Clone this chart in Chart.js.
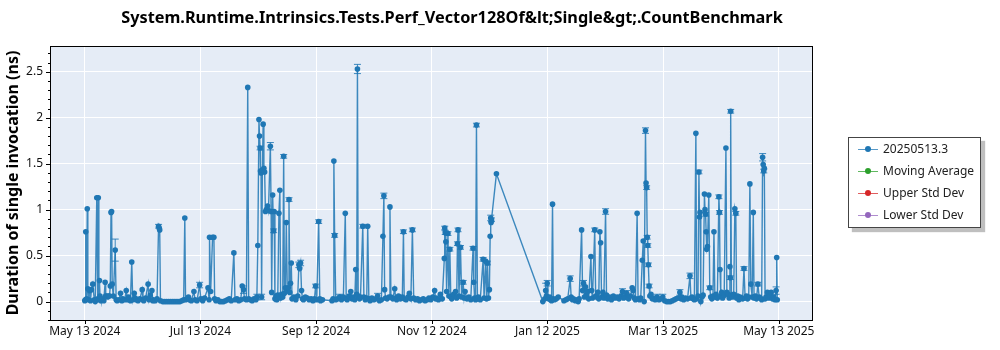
<!DOCTYPE html>
<html lang="en">
<head>
<meta charset="UTF-8">
<title>Perf_Vector128Of CountBenchmark</title>
<script src="https://cdn.jsdelivr.net/npm/chart.js"></script>
<style>
    body {
        margin: 0;
        background: #fff;
        font-family: "Noto Sans", sans-serif;
    }
    #wrap {
        position: relative;
        width: 1000px;
        height: 350px;
    }
    #title {
        position: absolute;
        left: 0;
        width: 904px;
        top: 6px;
        text-align: center;
        font-weight: bold;
        font-size: 16.3px;
        white-space: nowrap;
        color: #000;
    }
    #legend {
        position: absolute;
        left: 848px;
        top: 137px;
        width: 131px;
        height: 89px;
        border: 1px solid #444;
        background: #fff;
        box-shadow: 4px 4px 1px rgba(0, 0, 0, 0.25);
    }
    .row {
        height: 22px;
        line-height: 22px;
        padding-left: 9px;
        font-size: 12px;
        color: #222;
        white-space: nowrap;
    }
    .icon {
        position: relative;
        display: inline-block;
        width: 20px;
        height: 22px;
        vertical-align: top;
        margin-right: 5px;
    }
    .icon .ln {
        position: absolute;
        left: 0;
        right: 0;
        top: 10.5px;
        height: 1.5px;
        opacity: 0.75;
    }
    .icon .dot {
        position: absolute;
        left: 7px;
        top: 8px;
        width: 6px;
        height: 6px;
        border-radius: 50%;
    }
</style>
</head>
<body>
<div id="wrap">
    <canvas id="chart" width="1000" height="350"></canvas>
    <div id="title"></div>
    <div id="legend"></div>
</div>
<script>
    const chartTitle = 'System.Runtime.Intrinsics.Tests.Perf_Vector128Of&lt;Single&gt;.CountBenchmark';
    const yTitle = 'Duration of single invocation (ns)';

    // x axis: days since May 13 2024
    const tickDays = [0, 60.83, 121.67, 182.5, 243.33, 304.17, 365];
    const tickLabels = ['May 13 2024', 'Jul 13 2024', 'Sep 12 2024', 'Nov 12 2024', 'Jan 12 2025', 'Mar 13 2025', 'May 13 2025'];

    const seriesNames = ['20250513.3', 'Moving Average', 'Upper Std Dev', 'Lower Std Dev'];
    const seriesColors = ['#1f77b4', '#2ca02c', '#d62728', '#9467bd'];

    // run dates (days) and durations (ns)
    const runDays = [
        0, 0.3, 0.5, 1, 1.3, 1.6, 2, 2.5, 3, 3.5,
        4.2, 5, 5.5, 6.3, 6.8, 7.1, 7.4, 7.7, 8, 8.5,
        9, 10, 10.7, 11, 11.5, 12, 12.5, 13, 13.4, 13.8,
        14.1, 14.4, 15, 16, 16.5, 17, 18, 18.8, 19.5, 20,
        21, 21.8, 22.5, 23, 24, 24.7, 25.2, 26, 26.5, 27,
        28, 29, 30.2, 30.6, 31, 32, 33.3, 33.8, 34.4, 35.3,
        35.8, 36, 37, 38, 38.8, 39.1, 39.4, 39.8, 41, 42,
        43, 44, 45, 46, 47, 48, 49, 50, 51, 52,
        52.6, 53, 54, 54.5, 55, 56, 57.4, 58, 59, 60.4,
        61, 62, 63, 64.8, 65.4, 65.6, 66.2, 67.2, 67.9, 68.3,
        69, 70, 71, 72, 73, 74, 75, 76, 77, 78.4,
        79, 80, 81, 82, 82.8, 83.5, 84, 85, 85.7, 86.2,
        87, 88, 89, 90, 90.5, 91, 91.6, 91.9, 92.2, 92.4,
        92.7, 93, 93.4, 93.8, 94.2, 94.6, 95, 95.5, 96.1, 96.6,
        97.6, 98, 98.3, 98.8, 99.3, 99.6, 100, 100.5, 101, 101.5,
        102.1, 102.6, 103, 103.5, 104.1, 104.6, 105, 105.5, 106, 106.5,
        107, 107.4, 107.8, 108.2, 108.6, 109, 110, 111, 112, 112.6,
        113, 113.5, 114, 114.5, 115, 116, 117, 118, 119, 120,
        120.8, 121.4, 122, 123, 123.6, 124, 125, 130, 130.6, 131,
        131.4, 132, 133, 134, 134.5, 135, 136, 137, 137.5, 138,
        139, 139.9, 140.5, 141, 142, 142.5, 143, 143.4, 143.8, 144.5,
        145, 146.2, 146.8, 147.5, 148.3, 148.8, 149.4, 150, 151, 152,
        153, 154, 155, 156, 156.8, 157.3, 157.7, 158.2, 159, 160,
        160.5, 161, 162, 163, 163.5, 164, 165, 166, 167, 167.6,
        168, 169, 170, 170.7, 171.5, 172.3, 173, 174, 175, 176,
        177, 178, 179, 180, 181, 182, 183, 184, 184.5, 185,
        186, 187, 188, 189.1, 189.3, 189.6, 189.9, 190.3, 191, 191.5,
        192, 192.5, 193, 194, 195, 195.6, 196, 196.3, 196.8, 197.6,
        198.2, 199, 199.5, 200, 201, 202, 203, 204.2, 204.6, 205,
        205.5, 206, 206.5, 207, 208, 209.5, 210, 210.8, 211.3, 211.8,
        212.3, 212.8, 213.2, 213.5, 213.7, 213.9, 216.5, 240.9, 242, 242.4,
        242.8, 243.2, 243.6, 244, 244.5, 245, 245.5, 246, 246.4, 247,
        248, 249, 252, 253, 254, 255.3, 255.8, 256.5, 257, 258,
        259, 259.5, 260, 261.3, 261.8, 262.3, 262.8, 263.3, 263.8, 264.5,
        265, 266.2, 266.6, 267, 268.2, 268.7, 269.2, 269.8, 270.3, 270.9,
        271.3, 271.8, 272.5, 273, 273.9, 274.4, 275, 276, 277, 278,
        279, 280, 281, 282, 282.8, 283.4, 284, 285, 286, 287,
        287.9, 288.4, 289, 289.6, 290.5, 291, 291.8, 292.4, 293.2, 293.7,
        294.2, 294.9, 295.2, 295.5, 295.8, 296.1, 296.4, 296.8, 297.2, 297.8,
        298.5, 299, 300, 301, 302, 303, 304, 305, 306, 307,
        308, 309, 310, 311, 312, 313, 313.6, 314, 315, 316,
        317, 318.3, 318.8, 319.4, 320, 320.6, 321.4, 321.8, 322.5, 323,
        323.3, 323.6, 324, 324.6, 325.2, 325.9, 326.2, 326.5, 326.8, 327.1,
        327.5, 328.2, 328.7, 329.2, 329.8, 330.4, 330.9, 331.4, 332, 332.7,
        333.5, 333.8, 334.1, 334.5, 335, 335.5, 336.3, 337.2, 337.7, 338.2,
        338.9, 339.3, 339.5, 339.7, 340.1, 340.6, 341.3, 341.9, 342.4, 342.8,
        343.4, 344, 344.7, 345.3, 346, 346.7, 347.3, 348, 348.6, 349.2,
        349.8, 350.3, 351, 351.6, 352, 352.7, 353.3, 354, 354.7, 355.3,
        356, 356.5, 356.8, 357.1, 357.4, 357.8, 358.3, 359, 359.7, 360.3,
        361, 361.7, 362.4, 363, 363.6, 363.9, 364.2
    ];
    const durations = [
        0.01, 0.02, 0.76, 0.03, 1.01, 0.14, 0.02, 0.12, 0.01, 0.13,
        0.19, 0.02, 0.00, 1.13, 0.03, 1.13, 0.02, 0.23, 0.06, 0.01,
        0.03, 0.01, 0.21, 0.06, 0.06, 0.05, 0.06, 0.06, 0.17, 0.97,
        0.98, 0.19, 0.06, 0.56, 0.02, 0.01, 0.02, 0.09, 0.01, 0.03,
        0.02, 0.12, 0.02, 0.05, 0.01, 0.43, 0.02, 0.09, 0.04, 0.02,
        0.01, 0.03, 0.13, 0.02, 0.01, 0.04, 0.19, 0.02, 0.07, 0.12,
        0.01, 0.02, 0.01, 0.03, 0.82, 0.80, 0.78, 0.01, 0.00, 0.00,
        0.00, 0.00, 0.00, 0.00, 0.00, 0.00, 0.00, 0.00, 0.01, 0.02,
        0.91, 0.02, 0.03, 0.05, 0.02, 0.01, 0.11, 0.02, 0.01, 0.18,
        0.03, 0.01, 0.04, 0.15, 0.02, 0.70, 0.11, 0.70, 0.70, 0.03,
        0.01, 0.02, 0.00, 0.00, 0.00, 0.01, 0.02, 0.03, 0.01, 0.53,
        0.02, 0.03, 0.01, 0.02, 0.17, 0.13, 0.03, 0.02, 2.33, 0.03,
        0.02, 0.01, 0.03, 0.02, 0.05, 0.61, 1.98, 1.80, 1.67, 1.42,
        1.40, 0.05, 1.43, 1.93, 1.45, 1.41, 0.98, 1.00, 1.04, 0.99,
        1.69, 0.98, 0.10, 1.16, 0.77, 0.98, 0.03, 0.06, 0.02, 0.07,
        0.96, 1.21, 0.04, 0.08, 0.05, 1.58, 0.09, 0.15, 0.86, 0.12,
        0.15, 1.11, 0.10, 0.20, 0.42, 0.03, 0.05, 0.02, 0.06, 0.40,
        0.36, 0.42, 0.12, 0.03, 0.02, 0.05, 0.04, 0.02, 0.03, 0.01,
        0.03, 0.17, 0.02, 0.87, 0.03, 0.01, 0.02, 0.01, 0.03, 1.53,
        0.72, 0.02, 0.03, 0.05, 0.05, 0.02, 0.05, 0.96, 0.03, 0.02,
        0.06, 0.11, 0.03, 0.05, 0.02, 0.35, 0.08, 2.53, 0.06, 0.03,
        0.05, 0.82, 0.05, 0.02, 0.04, 0.82, 0.03, 0.01, 0.04, 0.02,
        0.03, 0.06, 0.01, 0.02, 0.71, 1.15, 0.13, 0.04, 0.03, 0.05,
        1.03, 0.05, 0.03, 0.14, 0.04, 0.02, 0.06, 0.03, 0.05, 0.76,
        0.03, 0.02, 0.05, 0.09, 0.03, 0.78, 0.04, 0.02, 0.03, 0.01,
        0.02, 0.03, 0.01, 0.02, 0.04, 0.02, 0.05, 0.12, 0.03, 0.04,
        0.02, 0.08, 0.03, 0.47, 0.80, 0.75, 0.65, 0.11, 0.74, 0.06,
        0.57, 0.05, 0.03, 0.08, 0.11, 0.04, 0.63, 0.78, 0.06, 0.59,
        0.05, 0.21, 0.04, 0.11, 0.03, 0.05, 0.02, 0.58, 0.21, 0.04,
        0.02, 1.92, 0.03, 0.05, 0.02, 0.46, 0.04, 0.44, 0.03, 0.42,
        0.04, 0.13, 0.71, 0.91, 0.86, 0.89, 1.39, 0.00, 0.03, 0.12,
        0.06, 0.20, 0.04, 0.03, 0.05, 0.02, 0.01, 1.06, 0.03, 0.02,
        0.03, 0.05, 0.01, 0.02, 0.03, 0.25, 0.05, 0.02, 0.03, 0.01,
        0.02, 0.00, 0.03, 0.78, 0.12, 0.20, 0.05, 0.16, 0.07, 0.11,
        0.03, 0.49, 0.12, 0.04, 0.78, 0.06, 0.05, 0.10, 0.03, 0.76,
        0.64, 0.05, 0.10, 0.04, 0.98, 0.07, 0.03, 0.05, 0.02, 0.06,
        0.04, 0.05, 0.03, 0.06, 0.11, 0.04, 0.05, 0.09, 0.03, 0.06,
        0.15, 0.12, 0.04, 0.02, 0.96, 0.03, 0.02, 0.04, 0.45, 0.66,
        0.00, 1.86, 1.29, 1.24, 0.70, 0.61, 0.40, 0.17, 0.06, 0.08,
        0.03, 0.04, 0.02, 0.05, 0.02, 0.03, 0.05, 0.01, 0.00, 0.00,
        0.00, 0.01, 0.02, 0.03, 0.04, 0.10, 0.03, 0.05, 0.02, 0.04,
        0.03, 0.28, 0.04, 0.05, 0.03, 0.02, 1.83, 0.03, 0.06, 1.41,
        0.92, 0.97, 0.00, 0.05, 0.07, 1.17, 1.00, 0.95, 0.76, 0.57,
        0.60, 1.16, 0.15, 0.05, 0.03, 0.06, 0.76, 0.05, 0.08, 0.04,
        1.14, 0.97, 0.35, 0.06, 0.10, 0.04, 0.07, 1.67, 0.10, 0.08,
        0.04, 0.38, 0.26, 2.07, 0.07, 0.05, 0.08, 1.01, 0.96, 0.04,
        0.06, 0.02, 0.05, 0.04, 0.03, 0.36, 0.04, 0.06, 0.03, 0.05,
        1.28, 0.19, 0.05, 0.97, 0.04, 0.06, 0.03, 0.19, 0.05, 0.04,
        0.02, 1.57, 1.49, 1.42, 1.45, 0.03, 0.05, 0.10, 0.04, 0.06,
        0.10, 0.03, 0.05, 0.02, 0.12, 0.48, 0.02
    ];

    // error bars: run day and half-height (ns)
    const errorDays = [16, 38.8, 60.4, 83.5, 90.5, 92.2, 93, 97.6, 99.3, 104.6,
        107.4, 112.6, 113.5, 121.4, 123, 131.4, 134, 143.4, 146.2, 154,
        157.3, 167.6, 172.3, 189.3, 189.6, 191, 192, 196, 196.3, 197.6,
        199, 204.2, 206, 209.5, 211.8, 213.5, 213.9, 242.4, 243.2, 255.3,
        262.3, 268.2, 273.9, 282.8, 285, 294.9, 295.5, 295.8, 296.1, 296.4,
        296.8, 301, 304, 313, 318.3, 323, 326.5, 328.7, 333.5, 333.8,
        339.5, 339.7, 342.4, 346.7, 354, 356.5, 357.1, 363.6];
    const errorSizes = [0.12, 0.02, 0.03, 0.04, 0.03, 0.02, 0.03, 0.04, 0.02, 0.02,
        0.02, 0.03, 0.03, 0.02, 0.02, 0.02, 0.03, 0.05, 0.02, 0.03,
        0.03, 0.02, 0.02, 0.02, 0.02, 0.02, 0.02, 0.02, 0.02, 0.02,
        0.02, 0.02, 0.02, 0.02, 0.02, 0.03, 0.02, 0.08, 0.03, 0.03,
        0.03, 0.02, 0.03, 0.03, 0.03, 0.03, 0.02, 0.02, 0.02, 0.02,
        0.02, 0.03, 0.03, 0.03, 0.03, 0.02, 0.02, 0.02, 0.02, 0.02,
        0.02, 0.02, 0.02, 0.02, 0.02, 0.04, 0.02, 0.04];

    const fontFamily = '"Noto Sans", sans-serif';
    const isMajor = v => Math.abs(v * 2 - Math.round(v * 2)) < 1e-6;

    document.getElementById('title').textContent = chartTitle;

    // plot background, frame and tick marks
    const plotFrame = {
        id: 'plotFrame',
        beforeDraw(chart) {
            const a = chart.chartArea, c = chart.ctx;
            c.save();
            c.fillStyle = '#e5ecf6';
            c.fillRect(a.left, a.top, a.right - a.left, a.bottom - a.top);
            c.restore();
        },
        afterDraw(chart) {
            const a = chart.chartArea, c = chart.ctx;
            const xs = chart.scales.x, ys = chart.scales.y;
            c.save();
            c.strokeStyle = '#000';
            c.lineWidth = 1;
            c.strokeRect(Math.round(a.left) + 0.5, Math.round(a.top) + 0.5,
                Math.round(a.right - a.left) - 1, Math.round(a.bottom - a.top));
            c.beginPath();
            tickDays.forEach(d => {
                const px = Math.round(xs.getPixelForValue(d)) + 0.5;
                c.moveTo(px, a.bottom);
                c.lineTo(px, a.bottom + 4);
            });
            // minor y ticks every 0.1
            for (let k = -2; k <= 27; k++) {
                const v = k / 10;
                const py = Math.round(ys.getPixelForValue(v)) + 0.5;
                const len = isMajor(v) ? 4 : 2;
                c.moveTo(a.left, py);
                c.lineTo(a.left - len, py);
            }
            c.stroke();
            c.restore();
        }
    };

    // vertical error bars with caps
    const errorBars = {
        id: 'errorBars',
        afterDatasetsDraw(chart) {
            const xs = chart.scales.x, ys = chart.scales.y, c = chart.ctx;
            c.save();
            c.strokeStyle = 'rgba(31, 119, 180, 0.85)';
            c.lineWidth = 1;
            c.beginPath();
            errorDays.forEach((d, i) => {
                const idx = runDays.indexOf(d);
                if (idx < 0) return;
                const px = xs.getPixelForValue(d);
                const top = ys.getPixelForValue(durations[idx] + errorSizes[i]);
                const bot = ys.getPixelForValue(durations[idx] - errorSizes[i]);
                c.moveTo(px, top); c.lineTo(px, bot);
                c.moveTo(px - 3.5, top); c.lineTo(px + 3.5, top);
                c.moveTo(px - 3.5, bot); c.lineTo(px + 3.5, bot);
            });
            c.stroke();
            c.restore();
        }
    };

    const datasets = seriesNames.map((name, i) => ({
        label: name,
        data: i === 0 ? runDays.map((d, j) => ({ x: d, y: durations[j] })) : [],
        borderColor: i === 0 ? 'rgba(31, 119, 180, 0.85)' : seriesColors[i],
        backgroundColor: seriesColors[i],
        pointBackgroundColor: seriesColors[i],
        borderWidth: 1.4,
        pointRadius: 2.8,
        pointBorderWidth: 0,
        tension: 0
    }));

    const chart = new Chart(document.getElementById('chart'), {
        type: 'line',
        data: { datasets: datasets },
        options: {
            responsive: false,
            animation: false,
            layout: { padding: { top: 46, right: 187, left: 0, bottom: 0 } },
            plugins: {
                legend: { display: false },
                tooltip: { enabled: false }
            },
            scales: {
                x: {
                    type: 'linear',
                    min: -18.3,
                    max: 383,
                    afterFit: s => { s.height = 30; },
                    afterBuildTicks: s => { s.ticks = tickDays.map(v => ({ value: v })); },
                    ticks: {
                        autoSkip: false,
                        maxRotation: 0,
                        padding: 4,
                        color: '#111',
                        font: { family: fontFamily, size: 12 },
                        callback: (v, i) => tickLabels[i]
                    },
                    grid: { color: '#fff', lineWidth: 1, drawTicks: false },
                    border: { display: false }
                },
                y: {
                    min: -0.2,
                    max: 2.78,
                    afterFit: s => { s.width = 50; },
                    ticks: {
                        stepSize: 0.1,
                        autoSkip: false,
                        padding: 7,
                        color: '#111',
                        font: { family: fontFamily, size: 12 },
                        callback: v => isMajor(v) ? String(Math.round(v * 10) / 10) : ''
                    },
                    grid: {
                        color: c => isMajor(c.tick.value) ? '#fff' : 'rgba(0,0,0,0)',
                        lineWidth: 1,
                        drawTicks: false
                    },
                    border: { display: false },
                    title: {
                        display: true,
                        text: yTitle,
                        color: '#000',
                        padding: { top: 4, bottom: 0 },
                        font: { family: fontFamily, size: 16, weight: 'bold' }
                    }
                }
            }
        },
        plugins: [plotFrame, errorBars]
    });

    // legend box built from the chart's datasets
    const legend = document.getElementById('legend');
    chart.data.datasets.forEach(ds => {
        const row = document.createElement('div');
        row.className = 'row';
        const icon = document.createElement('span');
        icon.className = 'icon';
        const ln = document.createElement('span');
        ln.className = 'ln';
        ln.style.background = ds.backgroundColor;
        const dot = document.createElement('span');
        dot.className = 'dot';
        dot.style.background = ds.backgroundColor;
        icon.appendChild(ln);
        icon.appendChild(dot);
        row.appendChild(icon);
        row.appendChild(document.createTextNode(ds.label));
        legend.appendChild(row);
    });
</script>
</body>
</html>
